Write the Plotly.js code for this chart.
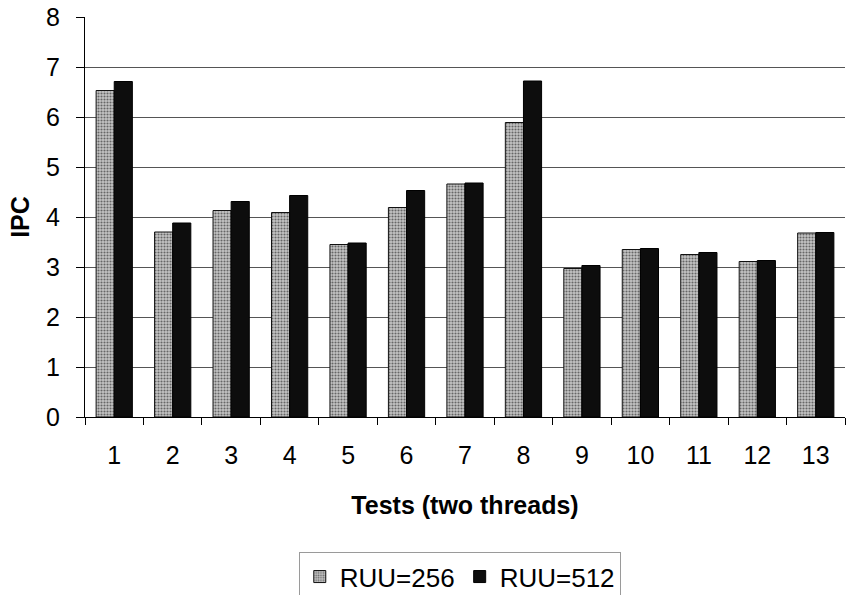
<!DOCTYPE html>
<html>
<head>
<meta charset="utf-8">
<script src="https://cdn.plot.ly/plotly-3.0.1.min.js"></script>
<style>
  html, body { margin: 0; padding: 0; background: #fff; }
  #chart { width: 853px; height: 595px; }
</style>
</head>
<body>
<div id="chart"></div>
<script>
// IPC per test, two threads, for two RUU sizes
const tests = ['1', '2', '3', '4', '5', '6', '7', '8', '9', '10', '11', '12', '13'];
const ruu256 = [6.53, 3.70, 4.13, 4.09, 3.45, 4.19, 4.66, 5.89, 2.97, 3.35, 3.25, 3.11, 3.68];
const ruu512 = [6.71, 3.88, 4.31, 4.43, 3.48, 4.53, 4.68, 6.72, 3.03, 3.37, 3.29, 3.13, 3.69];
const yTicks = [0, 1, 2, 3, 4, 5, 6, 7, 8];

const font = 'Liberation Sans, Arial, sans-serif';

const traces = [
  {
    type: 'bar', name: 'RUU=256', x: tests, y: ruu256,
    marker: {
      color: '#a8a8a8',
      line: { color: '#111', width: 1 },
      pattern: { shape: '.', fgcolor: '#666', bgcolor: '#c4c4c4', size: 3, solidity: 0.4 }
    }
  },
  {
    type: 'bar', name: 'RUU=512', x: tests, y: ruu512,
    marker: { color: '#0d0d0d', line: { color: '#000', width: 1 } }
  }
];

const layout = {
  width: 853, height: 595,
  paper_bgcolor: '#fff', plot_bgcolor: '#fff',
  margin: { l: 85, r: 8, t: 17, b: 178, autoexpand: false },
  barmode: 'group', bargap: 0.38, bargroupgap: 0,
  font: { family: font, size: 25, color: '#000' },
  showlegend: true,
  legend: {
    orientation: 'h', x: 0.539, xref: 'container', xanchor: 'center',
    y: 0.072, yref: 'container', yanchor: 'top',
    bordercolor: '#9a9a9a', borderwidth: 1, bgcolor: '#fff',
    font: { family: font, size: 26, color: '#000' },
    itemwidth: 30, tracegroupgap: 0
  },
  xaxis: {
    type: 'category', automargin: false,
    showline: true, linecolor: '#000', linewidth: 1,
    ticks: 'outside', ticklen: 7, tickcolor: '#000', tickson: 'boundaries',
    ticklabelstandoff: 16,
    tickfont: { family: font, size: 25, color: '#000' },
    showgrid: false,
    title: { text: 'Tests (two threads)', font: { family: font, size: 25, color: '#000', weight: 'bold' }, standoff: 28 }
  },
  yaxis: {
    range: [0, 8], tickvals: yTicks, ticktext: yTicks.map(String), automargin: false,
    showline: true, linecolor: '#000', linewidth: 1,
    ticks: 'outside', ticklen: 8, tickcolor: '#000',
    ticklabelstandoff: 11,
    tickfont: { family: font, size: 25, color: '#000' },
    showgrid: true, gridcolor: '#555', gridwidth: 1,
    zeroline: false,
    title: { text: 'IPC', font: { family: font, size: 25, color: '#000', weight: 'bold' }, standoff: 9 }
  }
};

Plotly.newPlot('chart', traces, layout, { displayModeBar: false, staticPlot: true });
</script>
</body>
</html>
